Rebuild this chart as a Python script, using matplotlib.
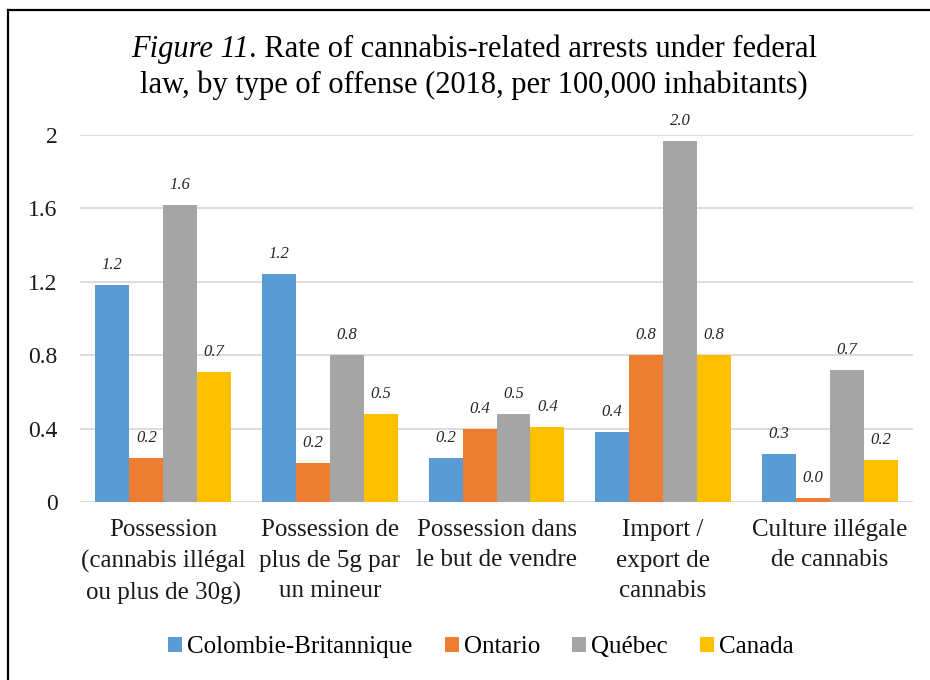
import numpy as np
import matplotlib
matplotlib.use("Agg")
import matplotlib.pyplot as plt
from matplotlib.patches import Patch
from matplotlib.lines import Line2D

# Arrest rates per 100,000 inhabitants, 2018
categories = [
    "Possession\n(cannabis illégal\nou plus de 30g)",
    "Possession de\nplus de 5g par\nun mineur",
    "Possession dans\nle but de vendre",
    "Import /\nexport de\ncannabis",
    "Culture illégale\nde cannabis",
]
series_names = ["Colombie-Britannique", "Ontario", "Québec", "Canada"]
colombie_britannique = [1.18, 1.24, 0.24, 0.38, 0.26]
ontario = [0.24, 0.21, 0.40, 0.80, 0.024]
quebec = [1.62, 0.80, 0.48, 1.97, 0.72]
canada = [0.71, 0.48, 0.41, 0.80, 0.23]
y_ticks = [0, 0.4, 0.8, 1.2, 1.6, 2]
y_tick_labels = ["0", "0.4", "0.8", "1.2", "1.6", "2"]

colors = ["#5B9BD5", "#ED7D31", "#A5A5A5", "#FFC000"]
serif = ["Liberation Serif", "DejaVu Serif"]
plt.rcParams["font.family"] = serif

W, H = 930, 680
fig = plt.figure(figsize=(W / 100, H / 100), dpi=100)
fig.patch.set_facecolor("white")

# frame around the figure (left and top edges visible)
fig.add_artist(Line2D([8 / W, 8 / W], [0, 1 - 10 / H], transform=fig.transFigure,
                      color="black", lw=1.6))
fig.add_artist(Line2D([8 / W, 1], [1 - 10 / H, 1 - 10 / H], transform=fig.transFigure,
                      color="black", lw=1.6))

left, right, top, bottom = 80, 913, 135, 502
ax = fig.add_axes([left / W, 1 - bottom / H, (right - left) / W, (bottom - top) / H])
ax.set_facecolor("none")

x = np.arange(len(categories))
width = 0.204
all_series = [colombie_britannique, ontario, quebec, canada]
for i, (vals, name, c) in enumerate(zip(all_series, series_names, colors)):
    pos = x + (i - 1.5) * width
    ax.bar(pos, vals, width, color=c, label=name, zorder=3)
    for xp, v in zip(pos, vals):
        ax.annotate(f"{v:.1f}", (xp, v), xytext=(0, 11.5), textcoords="offset points",
                    ha="center", va="baseline", fontsize=12, style="italic",
                    color="#262626")

ax.set_xlim(-0.5, len(categories) - 0.5)
ax.set_ylim(0, 2)
ax.set_yticks(y_ticks)
ax.set_yticklabels(y_tick_labels, fontsize=17, color="#1a1a1a")
ax.yaxis.grid(True, color="#D9D9D9", lw=1.3, zorder=0)
ax.tick_params(axis="y", length=0, pad=16)
ax.set_xticks([])
for s in ax.spines.values():
    s.set_visible(False)

# category labels under each group
label_y = -(519 - bottom) / (bottom - top)
for xi, lab in zip(x, categories):
    ax.text(xi, label_y, lab, transform=ax.get_xaxis_transform(), ha="center", va="top",
            fontsize=18, linespacing=1.5, color="#1a1a1a")

# title, first words in italics
renderer = fig.canvas.get_renderer()
cx = 474
title_fs = 22
t1 = fig.text(0, 0, "Figure 11", fontsize=title_fs, style="italic", va="baseline")
t2 = fig.text(0, 0, ". Rate of cannabis-related arrests under federal", fontsize=title_fs,
              va="baseline")
w1 = t1.get_window_extent(renderer).width
w2 = t2.get_window_extent(renderer).width
x0 = cx - (w1 + w2) / 2
y1 = 1 - 57 / H
t1.set_position((x0 / W, y1))
t2.set_position(((x0 + w1) / W, y1))
fig.text(cx / W, 1 - 93 / H, "law, by type of offense (2018, per 100,000 inhabitants)",
         fontsize=title_fs, ha="center", va="baseline")

handles = [Patch(facecolor=c, edgecolor="none") for c in colors]
fig.legend(handles, series_names, loc="center", bbox_to_anchor=(481 / W, 1 - 647 / H),
           ncol=4, frameon=False, fontsize=18, handlelength=0.55, handleheight=0.55,
           handletextpad=0.2, columnspacing=1.3, borderaxespad=0)

fig.savefig("out.png", dpi=100)
